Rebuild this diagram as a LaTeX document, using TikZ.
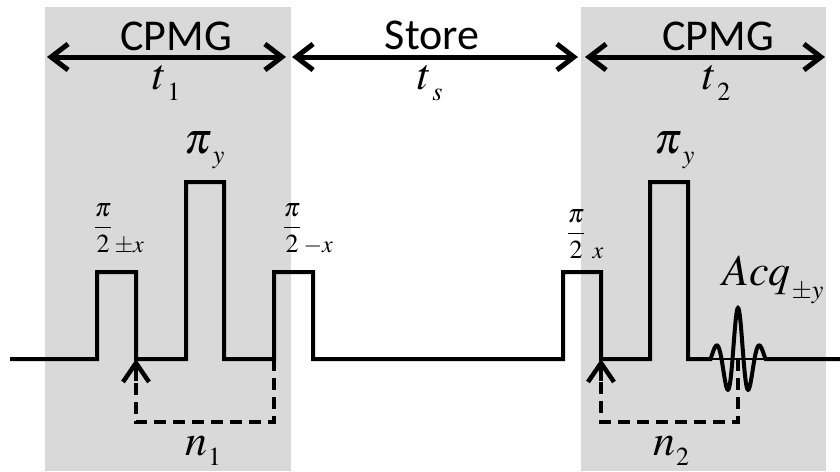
\documentclass[tikz,border=0pt]{standalone}
\usepackage{mathptmx}
\usepackage[no-math]{fontspec}
\newfontfamily\headfont{Carlito}
\usetikzlibrary{arrows.meta}
\definecolor{bandgray}{RGB}{217,217,217}
\DeclareMathSizes{44}{44}{30}{22}
\DeclareMathSizes{26}{26}{18}{14}
% symbol with a lowered subscript
\newcommand{\symb}[3][11pt]{$#2$\hspace{1pt}\raisebox{-#1}{\fontsize{26}{26}\selectfont$#3$}}
% pi over 2 with its phase
\newcommand{\halfpi}[2][5pt]{$\displaystyle\frac{\pi}{2\rlap{\hspace{#1}\fontsize{24}{24}\selectfont$#2$}}$}
\begin{document}
\begin{tikzpicture}[x=1pt,y=-1pt,
  head/.style={inner sep=0pt,font=\headfont\fontsize{44}{44}\selectfont},
  lbl/.style={inner sep=0pt,anchor=base west,font=\fontsize{44}{44}\selectfont},
  frac/.style={inner sep=0pt,font=\fontsize{26}{26}\selectfont},
  span/.style={line width=5pt,{Straight Barb[length=17pt,width=26pt]}-{Straight Barb[length=17pt,width=26pt]}},
  pulse/.style={line width=4pt},
  loopback/.style={line width=4.5pt,dash pattern=on 12pt off 7pt,shorten >=20pt},
  uptip/.style={line width=4.5pt,-{Straight Barb[length=19pt,width=26pt]}}]
\useasboundingbox (0,0) rectangle (840,471);
\fill[bandgray] (45,7) rectangle (291,471);
\fill[bandgray] (581,7) rectangle (826,471);

\coordinate (a1) at (47,57);
\coordinate (b1) at (286,57);
\coordinate (a2) at (292,57);
\coordinate (b2) at (578,57);
\coordinate (a3) at (585,57);
\coordinate (b3) at (825,57);
\draw[span] (a1) -- (b1);
\draw[span] (a2) -- (b2);
\draw[span] (a3) -- (b3);

\node[head] (cpmg1) at (176,36) {CPMG};
\node[head] (store) at (432,35) {Store};
\node[head] (cpmg2) at (718,36) {CPMG};
\node[lbl] (t1) at (152,89) {\symb{t}{1}};
\node[lbl] (ts) at (417,89) {\symb{t}{s}};
\node[lbl] (t2) at (702,89) {\symb{t}{2}};

\node[lbl] (piy1) at (184,153) {\symb[10pt]{\pi}{y}};
\node[lbl] (piy2) at (654,153) {\symb[10pt]{\pi}{y}};
\node[frac] (half1) at (103,229) {\halfpi{\pm x}};
\node[frac] (half2) at (292,229) {\halfpi{-x}};
\node[frac] (half3) at (576,234) {\halfpi[10pt]{x}};
\node[lbl] (acq) at (722,285) {\symb[13pt]{Acq}{\pm y}};

% pulse train
\draw[pulse] (10,359) -- (97,359) -- (97,272) -- (136,272) -- (136,359)
  -- (186,359) -- (186,182) -- (224,182) -- (224,359)
  -- (274,359) -- (274,272) -- (313,272) -- (313,359)
  -- (563,359) -- (563,272) -- (601,272) -- (601,359)
  -- (650,359) -- (650,182) -- (688,182) -- (688,359) -- (710.5,359)
  -- plot[domain=-27.5:27.5,samples=121,smooth] ({738+\x},{359-51/(1+(\x/13)^2)*cos(360*\x/22)})
  -- (840,359);
\draw[line width=1.2pt] (710,359) -- (766,359);

\coordinate (fall1) at (136,359);
\coordinate (rise3) at (274,359);
\coordinate (fall4) at (601,359);
\coordinate (acqmid) at (738,359);
\draw[loopback] (rise3) -- ++(0,63) -| (fall1);
\draw[loopback] (acqmid) -- ++(0,63) -| (fall4);
\draw[uptip] ([yshift=-22pt]fall1) -- (fall1);
\draw[uptip] ([yshift=-22pt]fall4) -- (fall4);
\node[lbl] (n1) at (185,455) {\symb[10pt]{n}{1}};
\node[lbl] (n2) at (653,455) {\symb[10pt]{n}{2}};
\end{tikzpicture}
\end{document}
